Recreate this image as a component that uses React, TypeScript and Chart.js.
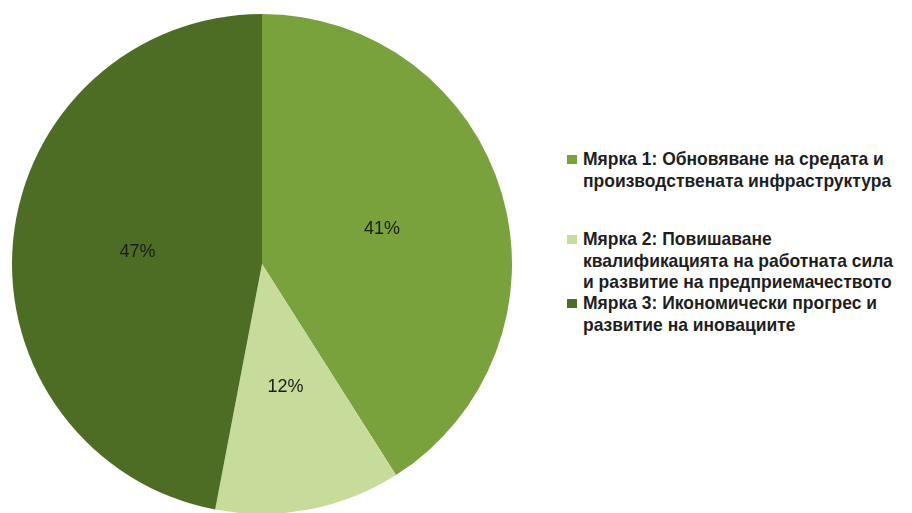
import React, { useEffect, useRef } from "react";
import { Chart, registerables } from "chart.js";

Chart.register(...registerables);

const categories = [
  "Мярка 1: Обновяване на средата и производствената инфраструктура",
  "Мярка 2: Повишаване квалификацията на работната сила и развитие на предприемачеството",
  "Мярка 3: Икономически прогрес и развитие на иновациите",
];
const legendLines = [
  ["Мярка 1: Обновяване на средата и", "производствената инфраструктура"],
  ["Мярка 2: Повишаване", "квалификацията на работната сила", "и развитие на предприемачеството"],
  ["Мярка 3: Икономически прогрес и", "развитие на иновациите"],
];
const values = [41, 12, 47];
const colors = ["#79a13c", "#c7db9b", "#4e6d24"];

const labelFont = '"Liberation Sans Narrow", "Arial Narrow", "Liberation Sans", sans-serif';

const pctLabels = {
  id: "pctLabels",
  afterDatasetsDraw(chart: any) {
    const ctx = chart.ctx;
    const meta = chart.getDatasetMeta(0);
    ctx.save();
    ctx.font = "18px " + labelFont;
    ctx.fillStyle = "#1c1c1c";
    ctx.textAlign = "center";
    ctx.textBaseline = "middle";
    meta.data.forEach((arc: any, i: number) => {
      const { x, y, startAngle, endAngle, outerRadius } = arc.getProps(
        ["x", "y", "startAngle", "endAngle", "outerRadius"],
        true
      );
      const mid = (startAngle + endAngle) / 2;
      const r = outerRadius * 0.5;
      ctx.fillText(values[i] + "%", x + Math.cos(mid) * r, y + Math.sin(mid) * r);
    });
    ctx.restore();
  },
};

export default function App() {
  const ref = useRef<HTMLCanvasElement>(null);
  useEffect(() => {
    if (!ref.current) return;
    const chart = new Chart(ref.current, {
      type: "pie",
      data: {
        labels: categories,
        datasets: [
          {
            data: values,
            backgroundColor: colors,
            borderWidth: 0,
          },
        ],
      },
      options: {
        responsive: false,
        animation: false,
        layout: { padding: 0 },
        plugins: {
          legend: { display: false },
          tooltip: { enabled: false },
        },
      },
      plugins: [pctLabels],
    });
    return () => chart.destroy();
  }, []);

  const itemTops = [148, 228, 292];
  return (
    <div
      style={{
        position: "fixed",
        left: 0,
        top: 0,
        width: 912,
        height: 513,
        background: "#ffffff",
        overflow: "hidden",
      }}
    >
      <canvas
        ref={ref}
        width={500}
        height={500}
        style={{ position: "absolute", left: 12, top: 14, width: 500, height: 500 }}
      />
      {legendLines.map((lines, i) => (
        <div
          key={i}
          style={{
            position: "absolute",
            left: 567,
            top: itemTops[i],
            fontFamily: labelFont,
            fontWeight: "bold",
            fontSize: 19,
            lineHeight: "21.5px",
            color: "#1e1e1e",
            whiteSpace: "nowrap",
          }}
        >
          <span
            style={{
              position: "absolute",
              left: 0,
              top: 7,
              width: 10,
              height: 9,
              background: colors[i],
            }}
          />
          <div style={{ marginLeft: 16, transform: "scaleX(0.92)", transformOrigin: "left top" }}>
            {lines.map((l, j) => (
              <div key={j}>{l}</div>
            ))}
          </div>
        </div>
      ))}
    </div>
  );
}
